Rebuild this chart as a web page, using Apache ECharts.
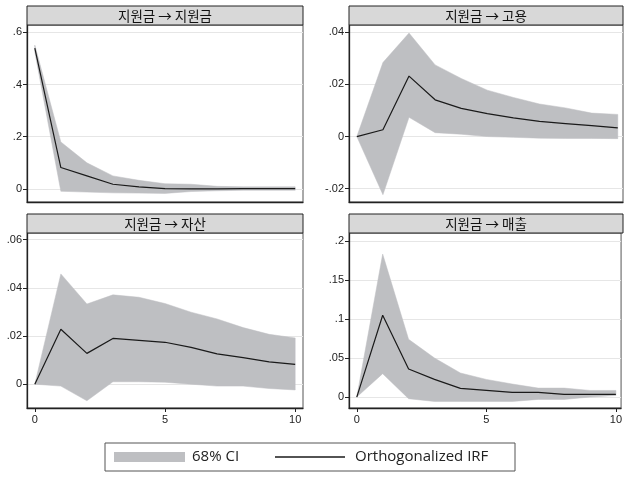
<!DOCTYPE html>
<html><head><meta charset="utf-8">
<script src="https://cdn.jsdelivr.net/npm/echarts@6/dist/echarts.min.js"></script>
<style>html,body{margin:0;padding:0;background:#fff}#c{width:625px;height:480px}</style>
</head><body><div id="c"></div>
<script>
const steps = [0,1,2,3,4,5,6,7,8,9,10];
const titles = ['지원금 → 지원금','지원금 → 고용','지원금 → 자산','지원금 → 매출'];

const irfSub   = [0.539,0.082,0.050,0.018,0.008,0.001,0.000,0.000,0.001,0.001,0.001];
const upSub    = [0.551,0.180,0.100,0.050,0.033,0.020,0.018,0.010,0.008,0.008,0.008];
const loSub    = [0.525,-0.009,-0.012,-0.015,-0.016,-0.017,-0.010,-0.007,-0.005,-0.005,-0.005];

const irfEmp   = [0,0.0026,0.0232,0.0141,0.0108,0.0088,0.0072,0.0058,0.0050,0.0042,0.0033];
const upEmp    = [0,0.0284,0.0397,0.0275,0.0223,0.0178,0.0150,0.0125,0.0110,0.0090,0.0085];
const loEmp    = [0,-0.0223,0.0074,0.0015,0.0009,0.0000,-0.0003,-0.0006,-0.0007,-0.0007,-0.0008];

const irfAst   = [0,0.0228,0.0128,0.0190,0.0182,0.0174,0.0153,0.0126,0.0110,0.0093,0.0082];
const upAst    = [0,0.0458,0.0333,0.0371,0.0361,0.0335,0.0299,0.0271,0.0235,0.0207,0.0192];
const loAst    = [0,-0.0008,-0.0069,0.0010,0.0010,0.0008,0.0000,-0.0008,-0.0008,-0.0018,-0.0024];

const irfSales = [0,0.1047,0.0359,0.0226,0.0111,0.0085,0.0060,0.0060,0.0034,0.0034,0.0034];
const upSales  = [0,0.183,0.0739,0.0500,0.0308,0.0226,0.0167,0.0115,0.0115,0.0085,0.0085];
const loSales  = [0,0.030,-0.0021,-0.0056,-0.0056,-0.0056,-0.0056,-0.0030,-0.0030,0.0000,0.0020];

const yTicks = [[0,0.2,0.4,0.6],[-0.02,0,0.02,0.04],[0,0.02,0.04,0.06],[0,0.05,0.1,0.15,0.2]];
const yRange = [[-0.05,0.628],[-0.0251,0.0428],[-0.0099,0.0628],[-0.014,0.21]];
const xTicks = [0,5,10];

const panels = [
  {irf:irfSub, up:upSub, lo:loSub},
  {irf:irfEmp, up:upEmp, lo:loEmp},
  {irf:irfAst, up:upAst, lo:loAst},
  {irf:irfSales, up:upSales, lo:loSales}
];
const gridPos = [
  {left:27, top:25, width:276, height:177},
  {left:349, top:25, width:274, height:177},
  {left:27, top:233, width:276, height:175},
  {left:349, top:233, width:274, height:175}
];
const BAND = '#bebfc2';
const fmt = v => { if (Math.abs(v) < 1e-12) return '0'; return String(+v.toFixed(4)).replace(/^(-?)0\./,'$1.'); };

const grid = [], xAxis = [], yAxis = [], series = [], graphic = [];
panels.forEach((p,i) => {
  grid.push(Object.assign({show:true, borderColor:'#555', borderWidth:1, backgroundColor:'#fff'}, gridPos[i]));
  const bottomRow = i >= 2;
  const xmax = (i % 2 === 0) ? 10.3 : 10.2;
  xAxis.push({
    type:'value', gridIndex:i, min:-0.3, max:xmax,
    axisLine:{show:true, onZero:false, lineStyle:{color:'#222', width:1.3}},
    axisTick:{show:bottomRow, length:4, customValues:xTicks, lineStyle:{color:'#222'}},
    axisLabel:{show:bottomRow, customValues:xTicks, fontFamily:'Liberation Sans', fontSize:11, color:'#222', margin:6},
    splitLine:{show:false}
  });
  yAxis.push({
    type:'value', gridIndex:i, min:yRange[i][0], max:yRange[i][1],
    axisLine:{show:true, onZero:false, lineStyle:{color:'#222', width:1.3}},
    axisTick:{show:true, length:4, customValues:yTicks[i], lineStyle:{color:'#222'}},
    axisLabel:{customValues:yTicks[i], formatter:fmt, fontFamily:'Liberation Sans', fontSize:11, color:'#222', margin:5},
    splitLine:{show:true, lineStyle:{color:'#e6e6e6', width:1}}
  });
  const bandData = steps.map((s,k)=>[s,p.lo[k],p.up[k]]);
  series.push({
    type:'custom', xAxisIndex:i, yAxisIndex:i, silent:true, z:2,
    data: bandData,
    encode:{x:0, y:[1,2]},
    renderItem: (params, api) => {
      if (params.dataIndex !== 0) return null;
      const upperPts = bandData.map(d => api.coord([d[0], d[2]]));
      const lowerPts = bandData.map(d => api.coord([d[0], d[1]])).reverse();
      return {type:'polygon', shape:{points: upperPts.concat(lowerPts)}, style:{fill:BAND, stroke:BAND, lineWidth:0.5}};
    }
  });
  series.push({
    type:'line', xAxisIndex:i, yAxisIndex:i, symbol:'none', silent:true,
    lineStyle:{color:'#1a1a1a', width:1.2}, data: steps.map((s,k)=>[s,p.irf[k]]), z:5
  });
  const g = gridPos[i];
  graphic.push({type:'rect', shape:{x:g.left, y:g.top-19, width:g.width, height:19},
    style:{fill:'#d8d8d8', stroke:'#222', lineWidth:1}, z:10});
  graphic.push({type:'text', x:g.left+g.width/2, y:g.top-9.5,
    style:{text:titles[i], fill:'#111', font:'13.5px "Noto Sans CJK KR"', align:'center', verticalAlign:'middle'}, z:11});
});

// legend
graphic.push({type:'rect', shape:{x:105, y:443, width:410, height:28}, style:{fill:'#fff', stroke:'#555', lineWidth:1}});
graphic.push({type:'rect', shape:{x:114, y:452, width:71, height:10}, style:{fill:BAND}});
graphic.push({type:'text', x:192, y:457, style:{text:'68% CI', fill:'#222', font:'15px "Open Sans"', verticalAlign:'middle'}});
graphic.push({type:'line', shape:{x1:275, y1:457, x2:345, y2:457}, style:{stroke:'#1a1a1a', lineWidth:1.5}});
graphic.push({type:'text', x:355, y:457, style:{text:'Orthogonalized IRF', fill:'#222', font:'15px "Open Sans"', verticalAlign:'middle'}});

const chart = echarts.init(document.getElementById('c'), null, {renderer:'canvas'});
chart.setOption({animation:false, backgroundColor:'#fff', grid, xAxis, yAxis, series, graphic});
</script></body></html>
